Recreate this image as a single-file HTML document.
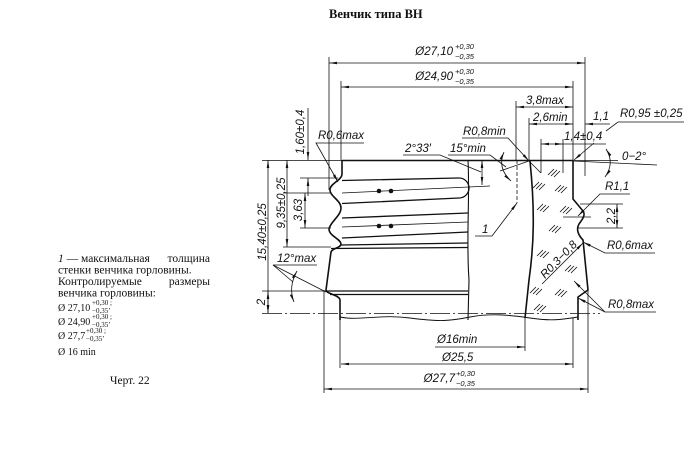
<!DOCTYPE html>
<html>
<head>
<meta charset="utf-8">
<style>
  html,body{margin:0;padding:0;background:#fff;}
  svg{display:block;}
  .d{font-family:"Liberation Sans",sans-serif;font-style:italic;font-size:11.5px;fill:#111;}
  .s{font-family:"Liberation Sans",sans-serif;font-style:italic;font-size:7.5px;fill:#111;}
  .t{font-family:"Liberation Serif",serif;font-size:11.5px;fill:#111;}
  .tm{font-family:"Liberation Serif",serif;font-size:10px;fill:#111;}
  .ts{font-family:"Liberation Serif",serif;font-size:7px;fill:#111;}
</style>
</head>
<body>
<svg width="700" height="469" viewBox="0 0 700 469" xmlns="http://www.w3.org/2000/svg">
<defs>
  <marker id="ar" markerWidth="8" markerHeight="4" refX="8" refY="2" orient="auto-start-reverse" markerUnits="userSpaceOnUse">
    <path d="M0,0.7 L8,2 L0,3.3z" fill="#111"/>
  </marker>
</defs>
<rect width="700" height="469" fill="#fff"/>

<!-- Title -->
<text x="329" y="18" font-family="Liberation Serif, serif" font-weight="bold" font-size="12.5" fill="#111">Венчик типа ВН</text>

<!-- thin lines -->
<g stroke="#111" stroke-width="0.8" fill="none">
  <!-- extension verticals -->
  <path d="M329,57 V190 M585,57 V176 M341,81 V160 M573,81 V161 M516,101 V160 M529,118 V161 M541,139 V173 M563,139 V173 M324,290 V393 M588,290 V393 M340,320 V368 M573,318 V368 M525,318 V351"/>
  <path d="M517,160 V203" stroke-dasharray="4,2"/>
  <!-- horizontal ext -->
  <path d="M262,160.5 H618 M300,178 H338 M283,193 H331 M300,228 H331 M283,247 H331 M262,291 H326 M580,204 H623 M578,228 H623 M563,217 H591"/>
  <path d="M262,313.5 H600" stroke-dasharray="20,3,2,3"/>
  <!-- dimension lines both arrows -->
  <path d="M329,63 H585" marker-start="url(#ar)" marker-end="url(#ar)"/>
  <path d="M341,87 H573" marker-start="url(#ar)" marker-end="url(#ar)"/>
  <path d="M516,107 H573" marker-start="url(#ar)" marker-end="url(#ar)"/>
  <path d="M529,124 H573" marker-start="url(#ar)" marker-end="url(#ar)"/>
  <path d="M585,124 H610" marker-start="url(#ar)"/>
  <path d="M541,144 H563" marker-start="url(#ar)" marker-end="url(#ar)"/>
  <path d="M563,144 H606"/>
  <path d="M341,364 H573" marker-start="url(#ar)" marker-end="url(#ar)"/>
  <path d="M324,389 H588" marker-start="url(#ar)" marker-end="url(#ar)"/>
  <path d="M435,347 H525" marker-end="url(#ar)"/>
  <path d="M268,160 V313" marker-start="url(#ar)" marker-end="url(#ar)"/>
  <path d="M268,291 V313" marker-start="url(#ar)" marker-end="url(#ar)"/>
  <path d="M287,160 V247" marker-start="url(#ar)" marker-end="url(#ar)"/>
  <path d="M305,193 V228" marker-start="url(#ar)" marker-end="url(#ar)"/>
  <path d="M308,108 V160" marker-end="url(#ar)"/>
  <path d="M308,196 V178" marker-end="url(#ar)"/>
  <path d="M482,160 V185" marker-start="url(#ar)" marker-end="url(#ar)"/>
  <path d="M617,204 V228" marker-start="url(#ar)" marker-end="url(#ar)"/>
  <!-- leaders -->
  <path d="M364,143 H316 L338,182" marker-end="url(#ar)"/>
  <path d="M462,138 H508 L529,161" marker-end="url(#ar)"/>
  <path d="M529,161 L541,173"/>
  <path d="M403,155 H440 L481,172"/>
  <path d="M448,155 H490 L506,167"/>
  <path d="M529,161 L500,171"/>
  <path d="M684,122 H618 L606,131"/>
  <path d="M594,143 L574,160" marker-end="url(#ar)"/>
  <path d="M573,161 L657,165"/>
  <path d="M630,194 H600 L578,216" marker-end="url(#ar)"/>
  <path d="M655,253 H605 L583,242" marker-end="url(#ar)"/>
  <path d="M656,312 H605 L574,281" marker-end="url(#ar)"/>
  <path d="M605,312 L578,298" marker-end="url(#ar)"/>
  <path d="M542,284 L583,243" marker-end="url(#ar)"/>
  <path d="M475,236 H492 L517,203" marker-end="url(#ar)"/>
  <path d="M317,265 H273 L326,292"/>
  <path d="M273,265 L293,282"/>
  <!-- angle arcs -->
  <path d="M504,152 Q497,168 511,181" marker-start="url(#ar)" marker-end="url(#ar)"/>
  <path d="M606,149 Q615,163 605,177" marker-start="url(#ar)" marker-end="url(#ar)"/>
  <path d="M297,271 Q288,287 294,302" marker-start="url(#ar)" marker-end="url(#ar)"/>
  <!-- thin thread lines through dots -->
  <path d="M342,193 L490,186 M342,227 L468,222"/>
  <!-- bottom break line -->
  <path d="M340,317 C360,321 380,314 410,318 S450,321 470,317 S510,315 530,318 S560,320 578,317" stroke-width="0.9"/>
</g>

<!-- thick outlines -->
<g stroke="#111" stroke-width="1.6" fill="none" stroke-linejoin="round">
  <path d="M342,160.5 H573"/>
  <path d="M342,160 V174 C342,180 331,183 330,189 C329,196 341,200 341,208 C341,216 330,222 329,229 C329,236 341,239 341,244 C341,248 332,248 331,252 L326,290 C326,294 340,295 340,300 V320"/>
  <path d="M468,160 C470,200 466,240 469,280 L468,320" stroke-width="1.1"/>
  <path d="M530,161 C535,210 534,245 529,280 L525,318"/>
  <path d="M573,161 V199 L583,211 C586,215 582,220 579,224 C576,229 578,235 583,240 L588,290 L578,297 V320"/>
</g>
<g stroke="#111" stroke-width="1.3" fill="none">
  <path d="M342,180.5 L459,178 A10,10 0 0 1 459,198 L342,203.5"/>
  <path d="M342,218 L468,213"/>
  <path d="M342,238 L468,232"/>
  <path d="M341,245 L468,243"/>
  <path d="M331,248.5 L468,247.5"/>
  <path d="M326,291 H468 M330,294.5 H468"/>
</g>
<g fill="#111">
  <circle cx="379" cy="191" r="2.3"/><circle cx="391" cy="191" r="2.3"/>
  <circle cx="379" cy="226" r="2.3"/><circle cx="391" cy="226" r="2.3"/>
</g>

<!-- hatching -->
<g stroke="#111" stroke-width="0.8" fill="none">
  <path id="h" d="M-5,3 L1,-3 M-2,4 L4,-2 M1,5 L7,-1" transform="translate(538,185)"/>
  <path d="M-5,3 L1,-3 M-2,4 L4,-2 M1,5 L7,-1" transform="translate(560,188)"/>
  <path d="M-5,3 L1,-3 M-2,4 L4,-2 M1,5 L7,-1" transform="translate(553,172)"/>
  <path d="M-5,3 L1,-3 M-2,4 L4,-2 M1,5 L7,-1" transform="translate(542,207)"/>
  <path d="M-5,3 L1,-3 M-2,4 L4,-2 M1,5 L7,-1" transform="translate(565,209)"/>
  <path d="M-5,3 L1,-3 M-2,4 L4,-2 M1,5 L7,-1" transform="translate(554,228)"/>
  <path d="M-5,3 L1,-3 M-2,4 L4,-2 M1,5 L7,-1" transform="translate(542,253)"/>
  <path d="M-5,3 L1,-3 M-2,4 L4,-2 M1,5 L7,-1" transform="translate(570,268)"/>
  <path d="M-5,3 L1,-3 M-2,4 L4,-2 M1,5 L7,-1" transform="translate(535,290)"/>
  <path d="M-5,3 L1,-3 M-2,4 L4,-2 M1,5 L7,-1" transform="translate(560,292)"/>
  <path d="M-5,3 L1,-3 M-2,4 L4,-2 M1,5 L7,-1" transform="translate(539,307)"/>
</g>

<!-- drawing labels -->
<text class="d" x="453" y="55" text-anchor="end">Ø27,10</text>
<text class="s" x="455" y="49">+0,30</text>
<text class="s" x="455" y="59">−0,35</text>
<text class="d" x="453" y="80" text-anchor="end">Ø24,90</text>
<text class="s" x="455" y="74">+0,30</text>
<text class="s" x="455" y="84">−0,35</text>
<text class="d" x="526" y="104">3,8max</text>
<text class="d" x="533" y="121">2,6min</text>
<text class="d" x="593" y="120">1,1</text>
<text class="d" x="620" y="117">R0,95 ±0,25</text>
<text class="d" x="564" y="140">1,4±0,4</text>
<text class="d" x="318" y="139">R0,6max</text>
<text class="d" x="463" y="135">R0,8min</text>
<text class="d" x="405" y="152">2°33′</text>
<text class="d" x="450" y="152">15°min</text>
<text class="d" x="622" y="160">0−2°</text>
<text class="d" x="605" y="190">R1,1</text>
<text class="d" x="607" y="249">R0,6max</text>
<text class="d" x="608" y="308">R0,8max</text>
<text class="d" x="482" y="233" font-size="13">1</text>
<text class="d" x="277" y="262">12°max</text>
<text class="d" x="437" y="343">Ø16min</text>
<text class="d" x="442" y="361">Ø25,5</text>
<text class="d" x="455" y="382" text-anchor="end">Ø27,7</text>
<text class="s" x="456" y="376">+0,30</text>
<text class="s" x="456" y="386">−0,35</text>

<text class="d" text-anchor="middle" transform="translate(304,132) rotate(-90)">1,60±0,4</text>
<text class="d" text-anchor="middle" transform="translate(266,232) rotate(-90)">15,40±0,25</text>
<text class="d" text-anchor="middle" transform="translate(285,203) rotate(-90)">9,35±0,25</text>
<text class="d" text-anchor="middle" transform="translate(302,210) rotate(-90)">3,63</text>
<text class="d" text-anchor="middle" transform="translate(265,302) rotate(-90)">2</text>
<text class="d" text-anchor="middle" transform="translate(615,216) rotate(-90)">2,2</text>
<text class="d" transform="translate(545,279) rotate(-46)">R0,3−0,8</text>

<!-- left text block -->
<text class="t" x="58" y="262"><tspan font-style="italic">1</tspan> — максимальная</text>
<text class="t" x="210" y="262" text-anchor="end">толщина</text>
<text class="t" x="58" y="273.5">стенки венчика горловины.</text>
<text class="t" x="58" y="285">Контролируемые</text>
<text class="t" x="210" y="285" text-anchor="end">размеры</text>
<text class="t" x="58" y="296.5">венчика горловины:</text>

<text class="tm" x="58" y="311">Ø 27,10</text>
<text class="ts" x="92" y="305">+0,30 ;</text>
<text class="ts" x="92" y="313">−0,35’</text>
<text class="tm" x="58" y="325">Ø 24,90</text>
<text class="ts" x="92" y="319">+0,30 ;</text>
<text class="ts" x="92" y="327">−0,35’</text>
<text class="tm" x="58" y="339">Ø 27,7</text>
<text class="ts" x="86" y="333">+0,30 ;</text>
<text class="ts" x="86" y="341">−0,35’</text>
<text class="tm" x="58" y="355">Ø 16 min</text>

<text class="t" x="110" y="384" font-size="12">Черт. 22</text>
</svg>
</body>
</html>
